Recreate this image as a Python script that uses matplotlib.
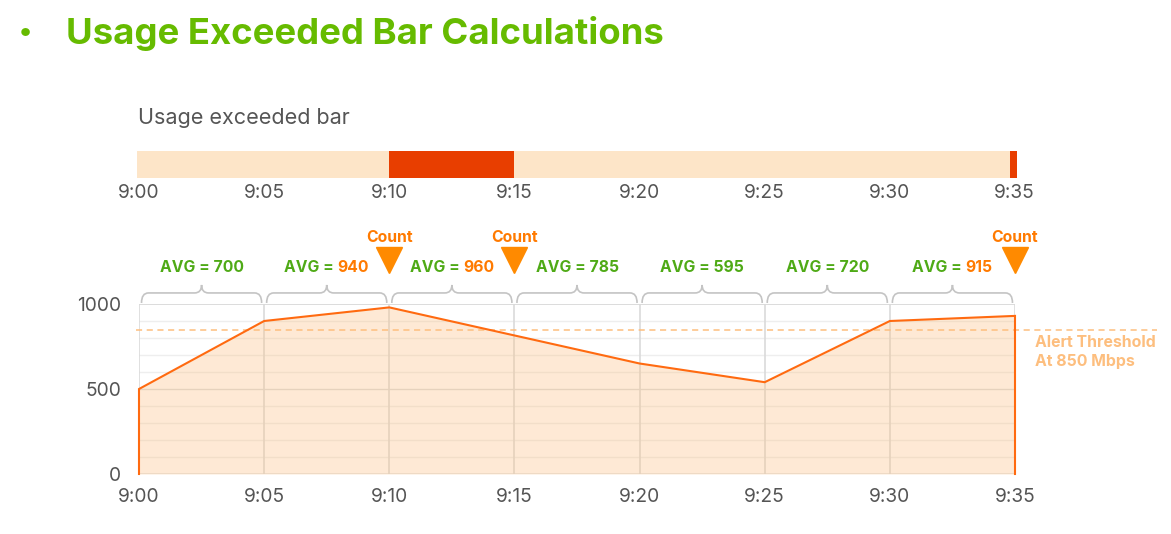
import matplotlib
matplotlib.use("Agg")
import matplotlib.pyplot as plt
from matplotlib.path import Path
from matplotlib.patches import PathPatch

plt.rcParams['font.family'] = ['Inter', 'DejaVu Sans']

# ---------------- data ----------------
time_labels = ["9:00", "9:05", "9:10", "9:15", "9:20", "9:25", "9:30", "9:35"]
minutes = [0, 5, 10, 15, 20, 25, 30, 35]
usage = [500, 900, 980, 815, 650, 540, 900, 930]
avg_values = [700, 940, 960, 785, 595, 720, 915]
count_minutes = [10, 15, 35]
threshold = 850
exceed_start = [10, 34.8]
exceed_end = [15, 35.08]
y_ticks = [0, 500, 1000]

# ---------------- style ----------------
W, H = 1171, 534
GREEN_TITLE = "#66BB00"
GREEN = "#4FAA16"
ORANGE_TXT = "#FF7A00"
ORANGE_LINE = "#FF6A10"
TRI = "#FF8A00"
THRESH = "#FDBE7E"
GRAY_TXT = "#555555"
BAR_LIGHT = "#FDE5C8"
BAR_RED = "#E83E00"

fig = plt.figure(figsize=(W / 100, H / 100), dpi=100)

def fx(px):
    return px / W

def fy(py):
    return 1 - py / H

# Title
fig.text(fx(19), fy(33), "\u2022", color=GREEN_TITLE, fontsize=20, fontweight='bold',
         va='center', ha='left')
fig.text(fx(66), fy(44), "Usage Exceeded Bar Calculations", color=GREEN_TITLE,
         fontsize=26.3, fontweight='bold', va='baseline')

# ---------------- top exceeded bar ----------------
bx0, bx1 = 137, 1017
ax2 = fig.add_axes([fx(bx0), fy(178), fx(bx1 - bx0), (178 - 151) / H])
px_per_min = 125.1 / 5
xmin2 = (bx0 - 139) / px_per_min
xmax2 = (bx1 - 139) / px_per_min
ax2.set_xlim(xmin2, xmax2)
ax2.set_ylim(-0.5, 0.5)
ax2.barh(0, xmax2 - xmin2, left=xmin2, height=1, color=BAR_LIGHT, linewidth=0)
ax2.barh([0] * len(exceed_start), [e - s for s, e in zip(exceed_start, exceed_end)],
         left=exceed_start, height=1, color=BAR_RED, linewidth=0)
for s in ax2.spines.values():
    s.set_visible(False)
ax2.set_yticks([])
ax2.set_xticks(minutes, time_labels)
ax2.tick_params(axis='x', length=0, pad=4, labelsize=13.8, labelcolor=GRAY_TXT)
fig.text(fx(138), fy(124), "Usage exceeded bar", color=GRAY_TXT, fontsize=15.5, va='baseline')

# ---------------- main chart ----------------
ax = fig.add_axes([fx(139), fy(474), fx(876), 170 / H])
ax.set_xlim(0, 35)
ax.set_ylim(0, 1000)
for s in ax.spines.values():
    s.set_visible(False)

# grid
for yv in range(100, 1000, 100):
    ax.axhline(yv, color="#EEEEEE" if yv != 500 else "#DCDCDC", lw=1, zorder=1)
ax.axhline(0, color="#E4E4E4", lw=1.2, zorder=1)
ax.axhline(1000, color="#D6D6D6", lw=1.2, zorder=1)
for m in minutes:
    ax.axvline(m, color="#DADADA", lw=1.2, zorder=1)

ax.fill_between(minutes, usage, color="#FDBF80", alpha=0.33, linewidth=0, zorder=2)
ax.plot([minutes[0]] + minutes + [minutes[-1]], [0] + usage + [0],
        color=ORANGE_LINE, lw=1.5, zorder=4, clip_on=False, solid_joinstyle='miter')

# threshold
ax.plot([-0.1, (1157 - 139) / px_per_min], [threshold, threshold], color=THRESH,
        lw=1.1, ls=(0, (4, 3)), clip_on=False, zorder=3)
ax.text(35.8, 815, f"Alert Threshold\nAt {threshold} Mbps", color=THRESH, fontsize=11.4,
        fontweight='bold', va='top', ha='left', linespacing=1.3)

ax.set_xticks(minutes, time_labels)
ax.set_yticks(y_ticks, [str(v) for v in y_ticks])
ax.tick_params(axis='both', length=0, labelsize=13.8, labelcolor=GRAY_TXT)
ax.tick_params(axis='x', pad=10)
ax.tick_params(axis='y', pad=13)

# braces + AVG labels
yb, yh, yt = 1006, 1065, 1112
dx = 0.28
gap = 0.1
fig.canvas.draw()
renderer = fig.canvas.get_renderer()
for i, v in enumerate(avg_values):
    x0 = minutes[i] + gap
    x1 = minutes[i + 1] - gap
    xm = (minutes[i] + minutes[i + 1]) / 2
    verts = [(x0, yb), (x0, yh), (x0 + dx, yh), (xm - dx, yh), (xm, yh), (xm, yt),
             (xm, yh), (xm + dx, yh), (x1 - dx, yh), (x1, yh), (x1, yb)]
    codes = [Path.MOVETO, Path.CURVE3, Path.CURVE3, Path.LINETO, Path.CURVE3, Path.CURVE3,
             Path.CURVE3, Path.CURVE3, Path.LINETO, Path.CURVE3, Path.CURVE3]
    ax.add_patch(PathPatch(Path(verts, codes), fill=False, edgecolor="#C4C4C4", lw=1.2,
                           clip_on=False))
    full = ax.text(xm, 1212, f"AVG = {v}", ha='center', va='center', fontsize=11.3,
                   fontweight='bold', color=GREEN)
    if v > threshold:
        bb = full.get_window_extent(renderer)
        full.remove()
        xl = ax.transData.inverted().transform((bb.x0, bb.y0))[0]
        pre = ax.text(xl, 1212, "AVG = ", ha='left', va='center', fontsize=11.3,
                      fontweight='bold', color=GREEN)
        ax.annotate(str(v), xy=(1, 0.5), xycoords=pre, ha='left', va='center',
                    fontsize=11.3, fontweight='bold', color=ORANGE_TXT)

# count markers
ax.plot(count_minutes, [1259] * len(count_minutes), ls='none', marker='v', markersize=19,
        color=TRI, clip_on=False, zorder=5)
for m in count_minutes:
    ax.text(m, 1394, "Count", ha='center', va='center', fontsize=11.3, fontweight='bold',
            color=ORANGE_TXT)

fig.savefig("out.png", dpi=100)
